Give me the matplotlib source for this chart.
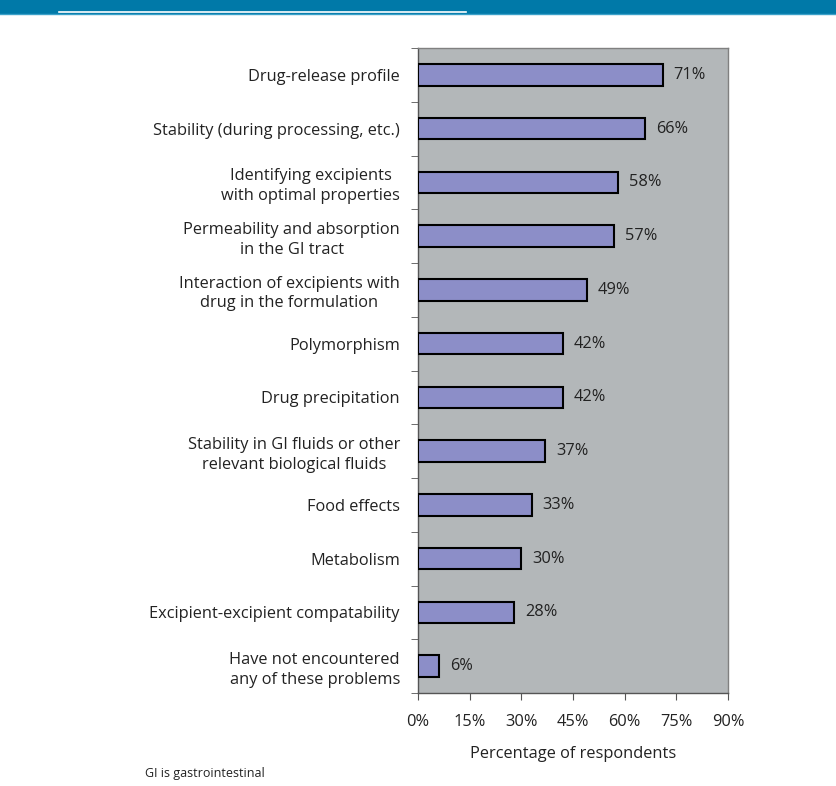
import matplotlib
matplotlib.use("Agg")
import matplotlib.pyplot as plt
from matplotlib.patches import Rectangle
from matplotlib.lines import Line2D

plt.rcParams['font.family'] = ['Open Sans', 'DejaVu Sans']

categories = [
    "Drug-release profile",
    "Stability (during processing, etc.)",
    "Identifying excipients\nwith optimal properties",
    "Permeability and absorption\nin the GI tract",
    "Interaction of excipients with\ndrug in the formulation",
    "Polymorphism",
    "Drug precipitation",
    "Stability in GI fluids or other\nrelevant biological fluids",
    "Food effects",
    "Metabolism",
    "Excipient-excipient compatability",
    "Have not encountered\nany of these problems",
]
values = [71, 66, 58, 57, 49, 42, 42, 37, 33, 30, 28, 6]
xticks = [0, 15, 30, 45, 60, 75, 90]
xtick_labels = ["0%", "15%", "30%", "45%", "60%", "75%", "90%"]

W, H = 837, 786
fig = plt.figure(figsize=(W / 100, H / 100), dpi=100)

# top banner
fig.patches.append(Rectangle((0, 1 - 14 / H), 1, 14 / H, transform=fig.transFigure,
                             facecolor="#0079a8", edgecolor="none", zorder=0))
fig.lines.append(Line2D([59 / W, 466 / W], [1 - 11.5 / H, 1 - 11.5 / H],
                        transform=fig.transFigure, color="white", lw=1.2))
fig.lines.append(Line2D([0, 1], [1 - 14 / H, 1 - 14 / H],
                        transform=fig.transFigure, color="#3aa0c8", lw=1.0))

left, right, top, bottom = 418, 728, 48, 693
ax = fig.add_axes([left / W, 1 - bottom / H, (right - left) / W, (bottom - top) / H])
ax.set_facecolor("#b3b7b9")

fs = 11.8
n = len(categories)
ypos = list(range(n))
ax.barh(ypos, values, height=0.4, color="#8c8ec8", edgecolor="black", linewidth=1.5, zorder=3)
ax.set_ylim(n - 0.5, -0.5)
ax.set_xlim(0, 90)

for y, v in zip(ypos, values):
    ax.text(v + 3.2, y, f"{v}%", va="center", ha="left", fontsize=fs, color="#222222")

ax.set_yticks(ypos)
ax.set_yticklabels(categories, fontsize=fs, color="#222222", linespacing=1.3,
                   multialignment="center")
ax.tick_params(axis="y", length=0, pad=13)
ax.set_yticks([i + 0.5 for i in range(-1, n)], minor=True)
ax.tick_params(axis="y", which="minor", length=5, direction="out", color="#555555")

ax.set_xticks(xticks)
ax.set_xticklabels(xtick_labels, fontsize=fs, color="#222222")
ax.tick_params(axis="x", length=5, direction="out", color="#555555", pad=10)
ax.set_xlabel("Percentage of respondents", fontsize=fs, color="#222222", labelpad=12)

for side in ["left", "bottom"]:
    ax.spines[side].set_color("#555555")
    ax.spines[side].set_linewidth(1.0)
for side in ["top", "right"]:
    ax.spines[side].set_color("#808080")
    ax.spines[side].set_linewidth(1.0)

fig.text(145 / W, 1 - 773 / H, "GI is gastrointestinal", fontsize=9, color="#222222",
         ha="left", va="center")

fig.savefig("out.png", dpi=100, facecolor="white")
